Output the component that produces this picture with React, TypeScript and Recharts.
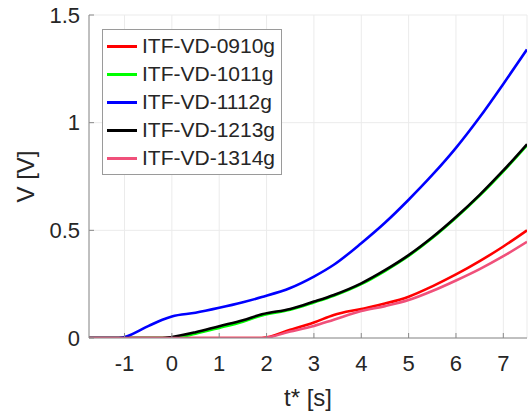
import {
  LineChart,
  Line,
  XAxis,
  YAxis,
  CartesianGrid,
  Legend,
} from "recharts";

// time axis t* [s], shared by every run
const tStar = [-1.75, -1.12, -0.5, -0.2, 0, 0.5, 1, 1.5, 1.9, 2.5, 3, 3.42, 4, 4.5, 5, 5.5, 6, 6.5, 7, 7.5];

const run0910 = [0, 0, 0, 0, 0, 0, 0, 0, 0, 0.038, 0.072, 0.107, 0.135, 0.16, 0.192, 0.24, 0.295, 0.357, 0.425, 0.5];
const run1011 = [0, 0, 0, 0, 0, 0.02, 0.047, 0.076, 0.105, 0.131, 0.165, 0.196, 0.25, 0.311, 0.381, 0.464, 0.558, 0.661, 0.774, 0.895];
const run1112 = [0, 0, 0.055, 0.085, 0.1, 0.117, 0.14, 0.166, 0.19, 0.232, 0.285, 0.34, 0.44, 0.535, 0.642, 0.757, 0.883, 1.025, 1.18, 1.34];
const run1213 = [0, 0, 0, 0, 0.005, 0.027, 0.055, 0.082, 0.11, 0.135, 0.169, 0.2, 0.254, 0.315, 0.385, 0.468, 0.562, 0.665, 0.778, 0.9];
const run1314 = [0, 0, 0, 0, 0, 0, 0, 0, 0, 0.03, 0.056, 0.085, 0.125, 0.148, 0.176, 0.218, 0.267, 0.32, 0.38, 0.447];

const xTicks = [-1, 0, 1, 2, 3, 4, 5, 6, 7];
const yTicks = [0, 0.5, 1, 1.5];

const series = [
  { key: "ITF-VD-0910g", values: run0910, color: "#ff0000" },
  { key: "ITF-VD-1011g", values: run1011, color: "#00ff00" },
  { key: "ITF-VD-1112g", values: run1112, color: "#0000ff" },
  { key: "ITF-VD-1213g", values: run1213, color: "#000000" },
  { key: "ITF-VD-1314g", values: run1314, color: "#f0507a" },
];

const rows = tStar.map((t, i) => {
  const row: Record<string, number> = { t };
  series.forEach((s) => (row[s.key] = s.values[i]));
  return row;
});

const FONT = '"Liberation Sans", Arial, sans-serif';
const TEXT = "#262626";
const AXIS = "#8a8a8a";

function LegendBox({ payload }: any) {
  return (
    <div
      style={{
        border: "1px solid #9a9a9a",
        background: "#fff",
        padding: "2px 6px 2px 4px",
        fontFamily: FONT,
        fontSize: 21,
        color: TEXT,
      }}
    >
      {(payload ?? []).map((p: any) => (
        <div key={p.value} style={{ display: "flex", alignItems: "center", height: 28 }}>
          <span
            style={{
              display: "inline-block",
              width: 30,
              height: 3,
              background: p.color,
              marginRight: 5,
            }}
          />
          <span>{p.value}</span>
        </div>
      ))}
    </div>
  );
}

const noLabel = () => <g />;

export default function App() {
  return (
    <div style={{ position: "absolute", left: 0, top: 0 }}>
      <LineChart
        width={528}
        height={416}
        data={rows}
        margin={{ top: 15, right: 1, left: 0, bottom: 0 }}
      >
        <CartesianGrid stroke="#ebebeb" strokeWidth={1} />
        <XAxis
          dataKey="t"
          type="number"
          domain={[-1.75, 7.5]}
          ticks={xTicks}
          allowDataOverflow
          height={78}
          stroke={AXIS}
          tickSize={-5}
          tickMargin={22}
          tick={{ fill: TEXT, fontSize: 22, fontFamily: FONT }}
          label={{
            value: "t* [s]",
            position: "insideBottom",
            offset: 10,
            fill: TEXT,
            fontSize: 24,
            fontFamily: FONT,
          }}
        />
        <XAxis
          xAxisId="top"
          orientation="top"
          dataKey="t"
          type="number"
          domain={[-1.75, 7.5]}
          ticks={xTicks}
          allowDataOverflow
          height={0}
          stroke={AXIS}
          tickSize={-5}
          tick={noLabel}
        />
        <YAxis
          type="number"
          domain={[0, 1.5]}
          ticks={yTicks}
          allowDataOverflow
          width={89}
          stroke={AXIS}
          tickSize={-5}
          tickMargin={14}
          tick={{ fill: TEXT, fontSize: 22, fontFamily: FONT }}
          label={{
            value: "V [V]",
            angle: -90,
            position: "insideLeft",
            offset: 25,
            fill: TEXT,
            fontSize: 24,
            fontFamily: FONT,
            style: { textAnchor: "middle" },
          }}
        />
        <YAxis
          yAxisId="right"
          orientation="right"
          type="number"
          domain={[0, 1.5]}
          ticks={yTicks}
          allowDataOverflow
          width={0}
          stroke={AXIS}
          tickSize={-5}
          tick={noLabel}
        />
        <Legend
          layout="vertical"
          align="center"
          verticalAlign="middle"
          content={<LegendBox />}
          wrapperStyle={{ left: 102, top: 29, width: "auto", height: "auto" }}
        />
        {series.map((s) => (
          <Line
            key={s.key}
            dataKey={s.key}
            stroke={s.color}
            strokeWidth={2.6}
            type="monotone"
            dot={false}
            activeDot={false}
            isAnimationActive={false}
          />
        ))}
      </LineChart>
    </div>
  );
}
